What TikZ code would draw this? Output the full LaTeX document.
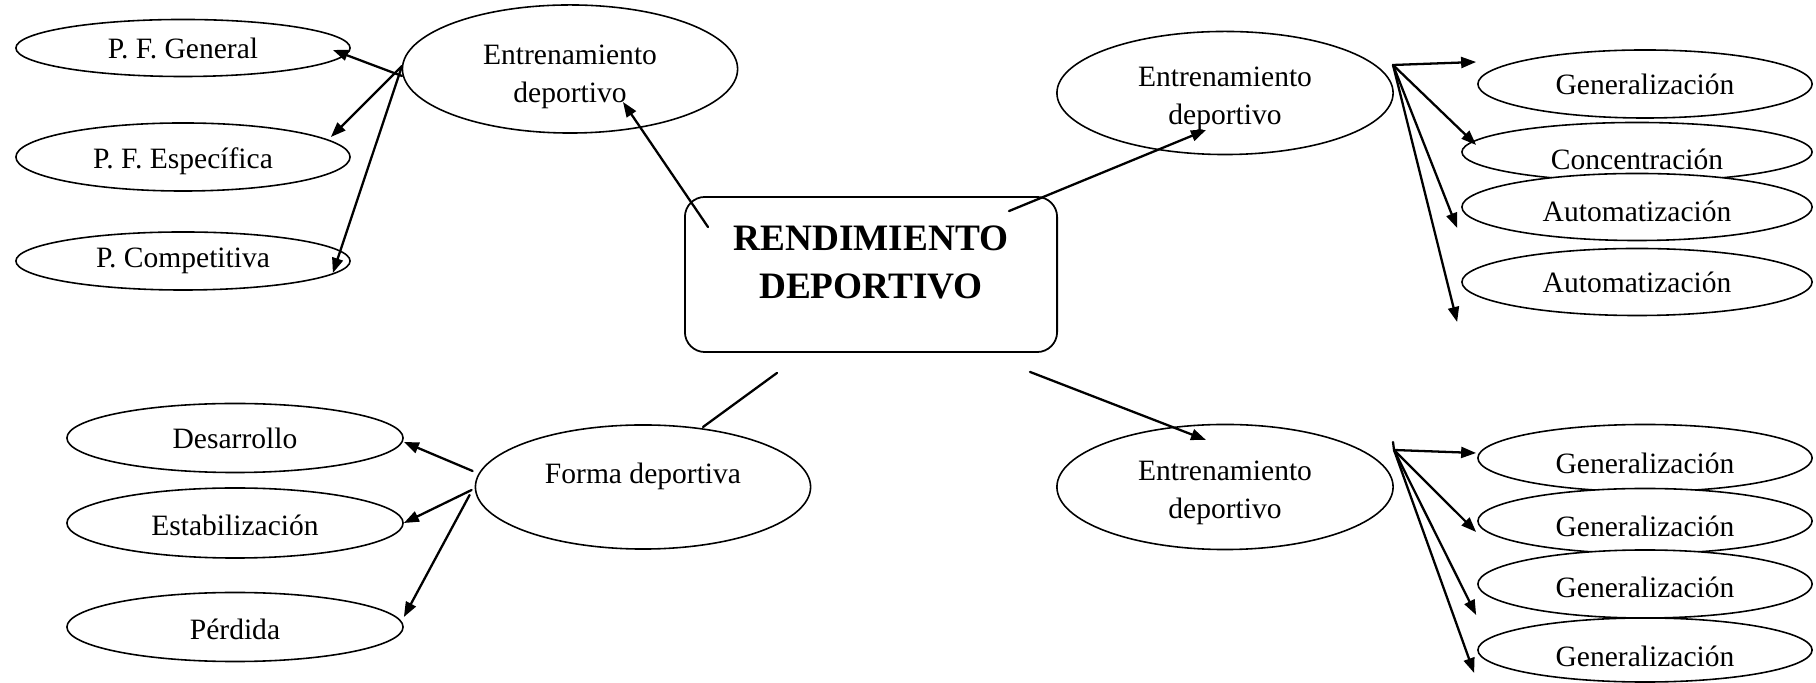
\documentclass[tikz,border=0pt]{standalone}
\usepackage{fontspec}
\setmainfont{Liberation Serif}
\usetikzlibrary{arrows.meta,shapes.geometric}

\begin{document}
\begin{tikzpicture}[line cap=round,line join=round,>={Triangle[length=1.5mm,width=1.1mm]},x=0.01cm,y=-0.01cm,
  bubble/.style={ellipse,draw,fill=white,line width=0.45pt,inner sep=0pt,minimum width=3.34cm,minimum height=0.68cm,align=center,font=\fontsize{8.4}{10.8}\selectfont},
  mainbox/.style={rectangle,draw,fill=white,line width=0.5pt,rounded corners=0.2cm,inner sep=0pt,minimum width=3.72cm,minimum height=1.55cm,align=center,font=\fontsize{10.6}{13.6}\selectfont\bfseries},
  link/.style={line width=0.65pt}]
  \useasboundingbox (0,0) rectangle (1816,683);
  \node[mainbox,text depth=0.25cm] (rend) at (871,274.5) {RENDIMIENTO\\DEPORTIVO};
  % left top
  \node[bubble,minimum height=0.57cm] (pfg) at (183,48) {P. F. General};
  \node[bubble,text height=0.29cm] (pfe) at (183,157) {P. F. Específica};
  \node[bubble,minimum height=0.58cm] (pcomp) at (183,261) {P. Competitiva};
  \node[bubble,minimum width=3.35cm,minimum height=1.28cm,text height=0.74cm] (entA) at (570,69) {Entrenamiento\\deportivo};
  % right top
  \node[bubble,minimum width=3.36cm,minimum height=1.23cm,text height=0.7cm] (entB) at (1225,93) {Entrenamiento\\deportivo};
  \node[bubble] (genA) at (1645,84) {Generalización};
  \node[bubble,minimum width=3.5cm,minimum height=0.59cm,text height=0.36cm] (conc) at (1637,152) {Concentración};
  \node[bubble,minimum width=3.5cm,minimum height=0.67cm,text height=0.29cm] (autoA) at (1637,207) {Automatización};
  \node[bubble,minimum width=3.5cm,minimum height=0.67cm] (autoB) at (1637,282) {Automatización};
  % left bottom
  \node[bubble,minimum width=3.35cm,minimum height=1.24cm,text depth=0.27cm] (forma) at (643,487) {Forma deportiva};
  \node[bubble,minimum width=3.36cm,minimum height=0.69cm] (desa) at (235,438) {Desarrollo};
  \node[bubble,minimum width=3.36cm,minimum height=0.7cm,text height=0.26cm] (esta) at (235,523) {Estabilización};
  \node[bubble,minimum width=3.36cm,minimum height=0.69cm,text height=0.26cm] (perd) at (235,627) {Pérdida};
  % right bottom
  \node[bubble,minimum width=3.36cm,minimum height=1.25cm,text height=0.7cm] (entC) at (1225,487) {Entrenamiento\\deportivo};
  \node[bubble,minimum height=0.67cm,text height=0.32cm] (genB) at (1645,458) {Generalización};
  \node[bubble,minimum height=0.65cm,text height=0.32cm] (genC) at (1645,521) {Generalización};
  \node[bubble,text height=0.27cm] (genD) at (1645,584) {Generalización};
  \node[bubble,minimum height=0.64cm,text height=0.34cm] (genE) at (1645,650) {Generalización};

  \coordinate (fanA) at (402,66);
  \coordinate (fanB) at (1393,65);
  \coordinate (fanC) at (1394,450);

  \draw[link,->] ([shift={(24,31)}]rend.north west) -- ([shift={(53,33)}]entA.center);
  \draw[link,->] ([shift={(-49,15)}]rend.north east) -- ([shift={(-19,37)}]entB.center);
  \draw[link] ([shift={(93,20)}]rend.south west) -- ([shift={(60,-60)}]forma.center);
  \draw[link,->] ([shift={(-28,19)}]rend.south east) -- ([shift={(-19,-47)}]entC.center);

  \draw[link,->] (fanA) ++(0,10) -- ([shift={(-18,2)}]pfg.east);
  \draw[link,->] (fanA) -- ([shift={(-20,-20)}]pfe.east);
  \draw[link,->] (fanA) -- ([shift={(-18,12)}]pcomp.east);

  \draw[link,->] (fanB) -- ([shift={(-1,-22)}]genA.west);
  \draw[link,->] (fanB) -- ([shift={(15,-7)}]conc.west);
  \draw[link,->] (fanB) -- ([shift={(-4,21)}]autoA.west);
  \draw[link,->] (fanB) -- ([shift={(-4,40)}]autoB.west);

  \draw[link,->] ([shift={(-2,-16)}]forma.west) -- ([shift={(0,4)}]desa.east);
  \draw[link,->] ([shift={(-3,3)}]forma.west) -- (esta.east);
  \draw[link,->] ([shift={(-5,8)}]forma.west) -- ([shift={(0,-10)}]perd.east);

  \draw[link] (fanC) -- ++(-1,-8);
  \draw[link,->] (fanC) -- ([shift={(-1,-5)}]genB.west);
  \draw[link,->] (fanC) -- ([shift={(-1,11)}]genC.west);
  \draw[link,->] (fanC) -- ([shift={(-1,31)}]genD.west);
  \draw[link,->] (fanC) -- ([shift={(-3,23)}]genE.west);
\end{tikzpicture}
\end{document}
